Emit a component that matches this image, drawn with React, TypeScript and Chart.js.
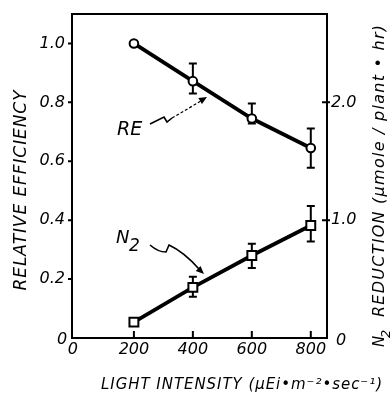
import React, { useEffect, useRef } from "react";
import { Chart, registerables } from "chart.js";
Chart.register(...registerables);

// ---- data ----
const lightIntensity = [200, 400, 600, 800];
const relativeEfficiency = [1.0, 0.872, 0.745, 0.645];
const reErrLow: (number | null)[] = [null, 0.83, 0.728, 0.578];
const reErrHigh: (number | null)[] = [null, 0.932, 0.796, 0.711];
const n2Reduction = [0.135, 0.43, 0.7, 0.955];
const n2ErrLow: (number | null)[] = [null, 0.35, 0.595, 0.82];
const n2ErrHigh: (number | null)[] = [null, 0.52, 0.8, 1.12];
const xTickValues = [200, 400, 600, 800];
const xTickLabels = ["200", "400", "600", "800"];
const leftTickValues = [0.2, 0.4, 0.6, 0.8, 1.0];
const leftTickLabels = ["0.2", "0.4", "0.6", "0.8", "1.0"];
const rightTickValues = [1.0, 2.0];
const rightTickLabels = ["1.0", "2.0"];

const FONT = '"DejaVu Sans"';

function fitText(ctx: CanvasRenderingContext2D, text: string, x: number, y: number, width: number) {
  (ctx as any).letterSpacing = "0px";
  const w = ctx.measureText(text).width;
  const sp = (width - w) / Math.max(1, text.length - 1);
  (ctx as any).letterSpacing = sp + "px";
  ctx.fillText(text, x, y);
  (ctx as any).letterSpacing = "0px";
}

function arrowHead(ctx: CanvasRenderingContext2D, fx: number, fy: number, tx: number, ty: number, len: number, half: number) {
  const a = Math.atan2(ty - fy, tx - fx);
  ctx.beginPath();
  ctx.moveTo(tx, ty);
  ctx.lineTo(tx - len * Math.cos(a) + half * Math.sin(a), ty - len * Math.sin(a) - half * Math.cos(a));
  ctx.lineTo(tx - len * Math.cos(a) - half * Math.sin(a), ty - len * Math.sin(a) + half * Math.cos(a));
  ctx.closePath();
  ctx.fill();
}

const decor = {
  id: "decor",
  beforeDatasetsDraw(chart: any) {
    const ctx: CanvasRenderingContext2D = chart.ctx;
    const x = chart.scales.x, y = chart.scales.y, y1 = chart.scales.y1;
    ctx.save();
    ctx.strokeStyle = "#000";
    ctx.lineWidth = 2;
    const bars = (lo: (number | null)[], hi: (number | null)[], sc: any) => {
      lightIntensity.forEach((v, i) => {
        const l = lo[i], h = hi[i];
        if (l == null || h == null) return;
        const px = x.getPixelForValue(v);
        const pl = sc.getPixelForValue(l), ph = sc.getPixelForValue(h);
        ctx.beginPath();
        ctx.moveTo(px, pl); ctx.lineTo(px, ph);
        ctx.moveTo(px - 4, pl); ctx.lineTo(px + 4, pl);
        ctx.moveTo(px - 4, ph); ctx.lineTo(px + 4, ph);
        ctx.stroke();
      });
    };
    bars(reErrLow, reErrHigh, y);
    bars(n2ErrLow, n2ErrHigh, y1);
    ctx.restore();
  },
  afterDraw(chart: any) {
    const ctx: CanvasRenderingContext2D = chart.ctx;
    const ca = chart.chartArea;
    const x = chart.scales.x, y = chart.scales.y, y1 = chart.scales.y1;
    ctx.save();
    ctx.strokeStyle = "#000";
    ctx.fillStyle = "#000";
    ctx.lineWidth = 2;
    ctx.strokeRect(ca.left, ca.top, ca.right - ca.left, ca.bottom - ca.top);

    // ticks
    ctx.beginPath();
    leftTickValues.forEach((v) => {
      const py = y.getPixelForValue(v);
      ctx.moveTo(ca.left - 4, py); ctx.lineTo(ca.left, py);
    });
    rightTickValues.forEach((v) => {
      const py = y1.getPixelForValue(v);
      ctx.moveTo(ca.right - 5, py); ctx.lineTo(ca.right + 3, py);
    });
    xTickValues.forEach((v) => {
      const px = x.getPixelForValue(v);
      ctx.moveTo(px, ca.bottom); ctx.lineTo(px, ca.bottom - 7);
    });
    ctx.stroke();

    // tick labels
    ctx.font = `italic 16px ${FONT}`;
    ctx.textBaseline = "middle";
    ctx.textAlign = "right";
    leftTickValues.forEach((v, i) => ctx.fillText(leftTickLabels[i], ca.left - 7, y.getPixelForValue(v)));
    ctx.textAlign = "left";
    rightTickValues.forEach((v, i) => ctx.fillText(rightTickLabels[i], ca.right + 4, y1.getPixelForValue(v)));
    ctx.textAlign = "center";
    xTickValues.forEach((v, i) => ctx.fillText(xTickLabels[i], x.getPixelForValue(v), ca.bottom + 12));
    ctx.fillText("0", x.getPixelForValue(0) - 2, ca.bottom + 12);
    ctx.fillText("0", ca.left - 10, ca.bottom + 2);
    ctx.fillText("0", ca.right + 14, ca.bottom + 3);

    // axis titles
    ctx.font = `italic 15px ${FONT}`;
    ctx.textAlign = "center";
    fitText(ctx, "LIGHT INTENSITY (\u03bcEi\u2022m\u207b\u00b2\u2022sec\u207b\u00b9)", 242, 385, 281);

    ctx.save();
    ctx.translate(22, 190);
    ctx.rotate(-Math.PI / 2);
    ctx.font = `italic 17px ${FONT}`;
    fitText(ctx, "RELATIVE EFFICIENCY", 0, 0, 200);
    ctx.restore();

    ctx.save();
    ctx.translate(380, 347);
    ctx.rotate(-Math.PI / 2);
    ctx.textAlign = "left";
    ctx.font = `italic 15px ${FONT}`;
    ctx.fillText("N", 0, 0);
    ctx.font = `italic 13px ${FONT}`;
    ctx.fillText("2", 9, 7);
    ctx.font = `italic 16px ${FONT}`;
    fitText(ctx, "REDUCTION (\u03bcmole / plant \u2022 hr)", 30, 0, 292);
    ctx.restore();

    // annotations
    const L = ca.left, T = ca.top;
    ctx.font = `italic 19px ${FONT}`;
    ctx.textAlign = "left";
    ctx.textBaseline = "alphabetic";
    ctx.fillText("RE", L + 45, T + 121);
    ctx.font = `italic 18px ${FONT}`;
    ctx.fillText("N", L + 44, T + 229);
    ctx.font = `italic 17px ${FONT}`;
    ctx.fillText("2", L + 57, T + 237);

    ctx.lineWidth = 1.6;
    ctx.beginPath();
    ctx.moveTo(L + 78, T + 110);
    ctx.lineTo(L + 92, T + 103);
    ctx.lineTo(L + 95, T + 108);
    ctx.lineTo(L + 100, T + 104);
    ctx.stroke();
    ctx.lineWidth = 1.2;
    ctx.setLineDash([3, 2]);
    ctx.beginPath();
    ctx.moveTo(L + 100, T + 104);
    ctx.lineTo(L + 129, T + 87);
    ctx.stroke();
    ctx.setLineDash([]);
    arrowHead(ctx, L + 100, T + 104, L + 135, T + 83, 8, 3.5);

    ctx.lineWidth = 1.6;
    ctx.beginPath();
    ctx.moveTo(L + 78, T + 231);
    ctx.quadraticCurveTo(L + 86, T + 238, L + 94, T + 238);
    ctx.lineTo(L + 97, T + 231);
    ctx.quadraticCurveTo(L + 112, T + 238, L + 127, T + 255);
    ctx.stroke();
    arrowHead(ctx, L + 118, T + 247, L + 132, T + 260, 8, 3.5);

    ctx.restore();
  },
};

export default function App() {
  const ref = useRef<HTMLCanvasElement>(null);
  useEffect(() => {
    const canvas = ref.current!;
    const chart = new Chart(canvas, {
      type: "line",
      data: {
        datasets: [
          {
            label: "RE",
            data: lightIntensity.map((v, i) => ({ x: v, y: relativeEfficiency[i] })),
            yAxisID: "y",
            borderColor: "#000",
            borderWidth: 3.8,
            pointStyle: "circle",
            pointRadius: 4.3,
            pointBorderWidth: 2,
            pointBackgroundColor: "#fff",
            pointBorderColor: "#000",
            tension: 0,
          },
          {
            label: "N2",
            data: lightIntensity.map((v, i) => ({ x: v, y: n2Reduction[i] })),
            yAxisID: "y1",
            borderColor: "#000",
            borderWidth: 3.8,
            pointStyle: "rect",
            pointRadius: 6.3,
            pointBorderWidth: 2,
            pointBackgroundColor: "#fff",
            pointBorderColor: "#000",
            tension: 0,
          },
        ],
      },
      options: {
        responsive: false,
        animation: false,
        layout: { padding: { top: 14, left: 0, right: 0, bottom: 0 } },
        plugins: { legend: { display: false }, tooltip: { enabled: false } },
        scales: {
          x: {
            type: "linear",
            min: -10,
            max: 855,
            ticks: { display: false },
            grid: { display: false },
            border: { display: false },
            afterFit: (s: any) => { s.height = 62; },
          },
          y: {
            position: "left",
            min: 0,
            max: 1.1,
            ticks: { display: false },
            grid: { display: false },
            border: { display: false },
            afterFit: (s: any) => { s.width = 72; },
          },
          y1: {
            position: "right",
            min: 0,
            max: 2.75,
            ticks: { display: false },
            grid: { display: false },
            border: { display: false },
            afterFit: (s: any) => { s.width = 65; },
          },
        },
      } as any,
      plugins: [decor],
    });
    return () => chart.destroy();
  }, []);
  return (
    <div style={{ position: "fixed", left: 0, top: 0, width: 392, height: 400, background: "#fff" }}>
      <canvas ref={ref} width={392} height={400} style={{ display: "block" }} />
    </div>
  );
}
